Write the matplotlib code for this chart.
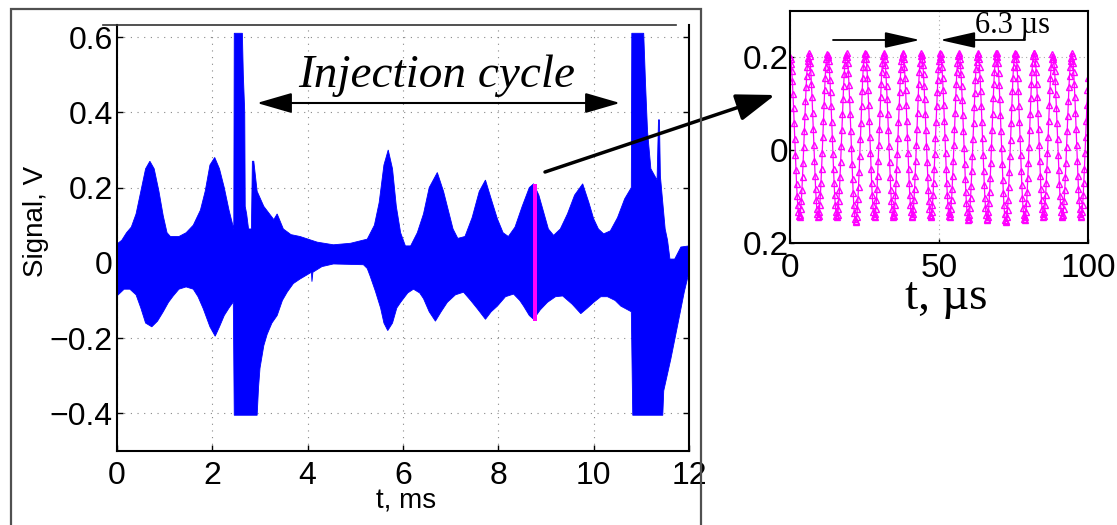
import numpy as np
import matplotlib
matplotlib.use("Agg")
import matplotlib.pyplot as plt
from matplotlib.patches import Rectangle, FancyArrowPatch
from matplotlib.lines import Line2D

# ---------------- data ----------------
# envelope of the pickup signal over the whole cycle (t in ms, V)
t_upper = [0, 0.1, 0.2, 0.3, 0.4, 0.5, 0.6, 0.69, 0.78, 0.88, 0.97, 1.05, 1.12, 1.3, 1.45,
           1.6, 1.75, 1.85, 1.95, 2.05, 2.15, 2.25, 2.35, 2.45, 2.46, 2.63, 2.65, 2.68, 2.69,
           2.72, 2.76, 2.82, 2.84, 2.87, 2.94, 3.08, 3.2, 3.29, 3.36, 3.49, 3.65, 3.84, 4.2,
           4.54, 4.9, 5.25, 5.4, 5.5, 5.6, 5.69, 5.78, 5.86, 5.95, 6.05, 6.16, 6.3, 6.43,
           6.55, 6.72, 6.85, 6.95, 7.05, 7.15, 7.3, 7.45, 7.6, 7.73, 7.85, 7.98, 8.1, 8.21,
           8.35, 8.5, 8.65, 8.74, 8.85, 8.95, 9.05, 9.16, 9.3, 9.45, 9.6, 9.77, 9.9, 10.0,
           10.1, 10.21, 10.35, 10.5, 10.65, 10.79, 10.8, 11.05, 11.09, 11.13, 11.2, 11.33,
           11.36, 11.38, 11.4, 11.5, 11.55, 11.6, 11.7, 11.83, 12.0]
v_upper = [0.05, 0.06, 0.08, 0.095, 0.13, 0.19, 0.25, 0.27, 0.25, 0.19, 0.125, 0.08, 0.07,
           0.07, 0.08, 0.10, 0.14, 0.19, 0.26, 0.28, 0.25, 0.20, 0.14, 0.09, 0.61, 0.61, 0.50,
           0.40, 0.15, 0.13, 0.09, 0.09, 0.27, 0.27, 0.19, 0.15, 0.13, 0.115, 0.13, 0.09, 0.075,
           0.07, 0.055, 0.048, 0.052, 0.063, 0.10, 0.16, 0.26, 0.30, 0.25, 0.15, 0.08, 0.045,
           0.045, 0.08, 0.13, 0.20, 0.24, 0.19, 0.14, 0.09, 0.065, 0.07, 0.12, 0.19, 0.22,
           0.17, 0.117, 0.08, 0.07, 0.095, 0.15, 0.20, 0.21, 0.18, 0.135, 0.09, 0.073, 0.09,
           0.13, 0.18, 0.21, 0.16, 0.117, 0.09, 0.077, 0.085, 0.12, 0.17, 0.20, 0.61, 0.61,
           0.47, 0.35, 0.25, 0.22, 0.38, 0.38, 0.23, 0.09, 0.06, 0.01, 0.01, 0.042, 0.045]
t_lower = [0, 0.15, 0.27, 0.4, 0.5, 0.6, 0.73, 0.85, 0.97, 1.08, 1.18, 1.3, 1.45, 1.6, 1.7,
           1.81, 1.95, 2.06, 2.15, 2.25, 2.35, 2.44, 2.46, 2.94, 2.97, 3.0, 3.08, 3.15, 3.25,
           3.36, 3.47, 3.57, 3.7, 3.84, 4.08, 4.09, 4.11, 4.3, 4.54, 5.17, 5.25, 5.31, 5.42,
           5.53, 5.6, 5.68, 5.78, 5.87, 5.95, 6.1, 6.22, 6.35, 6.43, 6.55, 6.68, 6.8, 6.93,
           7.1, 7.27, 7.42, 7.56, 7.73, 7.85, 7.98, 8.15, 8.32, 8.45, 8.53, 8.65, 8.74, 8.88,
           9.03, 9.2, 9.35, 9.55, 9.73, 9.87, 10.0, 10.15, 10.29, 10.45, 10.57, 10.79, 10.82,
           11.45, 11.47, 11.62, 11.76, 11.9, 12.0]
v_lower = [-0.088, -0.07, -0.07, -0.085, -0.12, -0.16, -0.17, -0.155, -0.13, -0.105, -0.088,
           -0.07, -0.064, -0.07, -0.09, -0.122, -0.17, -0.195, -0.17, -0.14, -0.12, -0.104,
           -0.405, -0.405, -0.33, -0.28, -0.22, -0.19, -0.16, -0.14, -0.10, -0.078, -0.055,
           -0.043, -0.025, -0.05, -0.025, -0.01, -0.003, -0.005, -0.015, -0.035, -0.075, -0.12,
           -0.16, -0.18, -0.16, -0.12, -0.105, -0.08, -0.07, -0.08, -0.095, -0.13, -0.155,
           -0.13, -0.105, -0.085, -0.078, -0.10, -0.122, -0.15, -0.13, -0.115, -0.09, -0.083,
           -0.10, -0.115, -0.14, -0.15, -0.125, -0.105, -0.09, -0.088, -0.11, -0.135, -0.12,
           -0.105, -0.09, -0.09, -0.10, -0.115, -0.13, -0.405, -0.405, -0.34, -0.255, -0.167,
           -0.078, -0.025]

# zoomed 100 us window, starting at 8.72 ms
window_start_ms = 8.72
window_len_us = 100.0
period_us = 6.3
sample_us = 0.2
cycle_peak = [0.20, 0.21, 0.205, 0.21, 0.21, 0.205, 0.21, 0.205, 0.21, 0.205, 0.21, 0.21,
              0.21, 0.21, 0.20, 0.21]
cycle_trough = [-0.144, -0.144, -0.144, -0.154, -0.144, -0.144, -0.144, -0.144, -0.144,
                -0.15, -0.15, -0.155, -0.15, -0.144, -0.144, -0.144]

main_xticks = [0, 2, 4, 6, 8, 10, 12]
main_yticks = [-0.4, -0.2, 0, 0.2, 0.4, 0.6]
main_yticklabels = ['\u22120.4', '\u22120.2', '0', '0.2', '0.4', '0.6']
inset_xticks = [0, 50, 100]
inset_yticks = [-0.2, 0, 0.2]
inset_yticklabels = ["0.2", "0", "0.2"]

# sampled waveform in the window
t_us = np.arange(0, window_len_us + 1e-9, sample_us)
idx = np.minimum((t_us // period_us).astype(int), len(cycle_peak) - 1)
pk = np.array(cycle_peak)[idx]
tr = np.array(cycle_trough)[idx]
v_us = (pk + tr) / 2 + (pk - tr) / 2 * np.cos(2 * np.pi * t_us / period_us)

# ---------------- figure ----------------
W, H = 1117, 525
fig = plt.figure(figsize=(W / 100, H / 100), dpi=100)
plt.rcParams['font.family'] = ['Liberation Sans', 'DejaVu Sans']

def fx(px):
    return px / W

def fy(py):
    return 1 - py / H

def arrow(p0, p1, style, lw):
    fig.add_artist(FancyArrowPatch((fx(p0[0]), fy(p0[1])), (fx(p1[0]), fy(p1[1])),
                                   transform=fig.transFigure, arrowstyle=style,
                                   mutation_scale=14, color='black', lw=lw,
                                   shrinkA=0, shrinkB=0))

# outer frame of the left panel and the stray top line
fig.patches.append(Rectangle((fx(11), -0.05), fx(701) - fx(11), fy(9) + 0.05,
                             transform=fig.transFigure, fill=False, ec='#505050', lw=1.6))
fig.lines.append(Line2D([fx(103), fx(676)], [fy(25), fy(25)], transform=fig.transFigure,
                        color='#333333', lw=1.2))

# main axes
ax = fig.add_axes([fx(117), fy(451), fx(689) - fx(117), fy(25) - fy(451)])
poly_t = np.concatenate([t_upper, t_lower[::-1]])
poly_v = np.concatenate([v_upper, v_lower[::-1]])
ax.fill(poly_t, poly_v, color='#0000ff', lw=0.6, ec='#0000ff', zorder=2)
ax.fill_between([window_start_ms, window_start_ms + window_len_us / 1000],
                v_us.min(), v_us.max(), color='#ff00ff', lw=0, zorder=3)

ax.set_xlim(0, 12)
ax.set_ylim(-0.5, 0.632)
ax.set_xticks(main_xticks)
ax.set_yticks(main_yticks)
ax.set_yticklabels(main_yticklabels)
ax.grid(True, color='#888888', linestyle=(0, (1, 5)), lw=0.8)
ax.tick_params(direction='in', length=4, width=1, labelsize=23, right=True, top=False)
ax.tick_params(axis='x', pad=7)
ax.tick_params(axis='y', pad=3)
ax.spines['top'].set_visible(False)
for s in ['left', 'bottom', 'right']:
    ax.spines[s].set_linewidth(1.5)

fig.text(fx(36), fy(221), 'Signal, V', rotation=90, fontsize=20, ha='center', va='center')
fig.text(fx(406), fy(502), 't, ms', fontsize=20, ha='center', va='center')

# "Injection cycle" annotation
fig.text(fx(437), fy(87), 'Injection cycle', family='Liberation Serif', style='italic',
         fontsize=34, ha='center', va='baseline')
arrow((257, 103), (620, 103), '<|-|>,head_length=1.55,head_width=0.45', 1.5)

# pointer from the magenta strip to the zoom
arrow((545, 172), (775, 95), '-|>,head_length=1.7,head_width=0.6', 2.5)

# inset with the 100 us window
axi = fig.add_axes([fx(790), fy(243), fx(1088) - fx(790), fy(11) - fy(243)])
axi.plot(t_us, v_us, color='#ff00ff', lw=0.9, marker='^', ms=4.5, mfc='none',
         mec='#ff00ff', mew=1.0)
axi.set_xlim(0, 100)
axi.set_ylim(-0.2, 0.3)
axi.set_xticks(inset_xticks)
axi.set_yticks(inset_yticks)
axi.set_yticklabels(inset_yticklabels)
axi.grid(True, color='#aaaaaa', linestyle=(0, (1, 3)), lw=0.8)
axi.tick_params(direction='in', length=3, width=1, labelsize=24, pad=1)
axi.tick_params(axis='x', pad=7)
for s in axi.spines.values():
    s.set_linewidth(1.5)

fig.text(fx(946), fy(309), 't, \u00b5s', family='Liberation Serif', fontsize=34,
         ha='center', va='baseline')
fig.text(fx(975), fy(33), '6.3 \u00b5s', family='Liberation Serif', fontsize=22,
         ha='left', va='baseline')
arrow((833, 40), (920, 40), '-|>,head_length=1.55,head_width=0.35', 1.3)
arrow((1025, 40), (940, 40), '-|>,head_length=1.55,head_width=0.35', 1.3)

fig.savefig('out.png', dpi=100)
